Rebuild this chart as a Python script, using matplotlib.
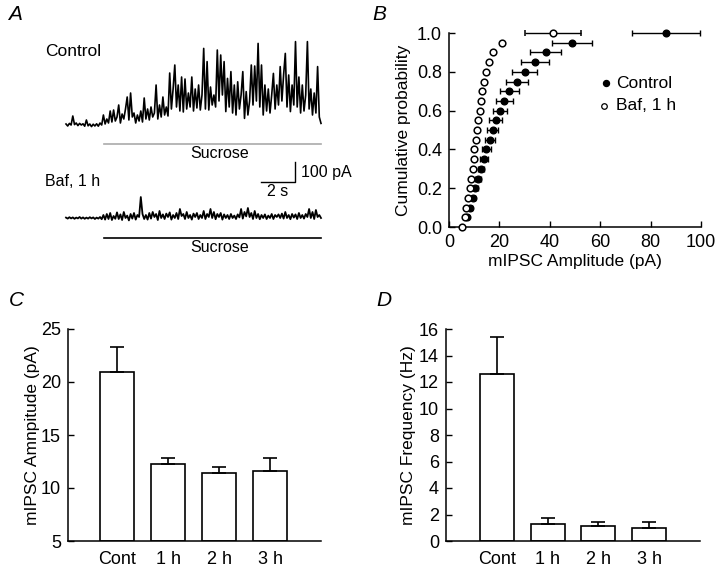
import numpy as np
import matplotlib
matplotlib.use("Agg")
import matplotlib.pyplot as plt

plt.rcParams['font.family'] = ['Liberation Sans', 'DejaVu Sans']

# ---------------- data ----------------
trace_dt = 0.1
control_trace = [
    5, -5, 8, 0, 45, 2, 10, -3, 8, 0,
    6, -6, 25, -4, 5, -8, 4, -5, 6, -6,
    10, 0, 50, 5, 30, 10, 70, 15, 75, 20,
    40, 100, 10, 55, 30, 80, 140, 25, 160, 40,
    60, 10, 50, 20, 70, 15, 135, 30, 80, 25,
    90, 40, 60, 200, 30, 100, 40, 140, 50, 90,
    45, 260, 80, 180, 300, 90, 200, 70, 240, 65,
    230, 80, 160, 90, 240, 70, 180, 85, 200, 75,
    150, 383, 80, 317, 75, 190, 100, 150, 90, 375,
    120, 350, 150, 317, 67, 233, 90, 267, 60, 200,
    50, 216, 80, 150, 267, 33, 167, 50, 120, 300,
    100, 295, 120, 408, 90, 300, 50, 200, 70, 180,
    60, 150, 258, 80, 200, 100, 292, 120, 250, 358,
    90, 250, 67, 200, 100, 417, 90, 240, 60, 200,
    70, 150, 417, 80, 180, 50, 160, 60, 292, 40,
    8]
baf_trace = [
    2, -3, 4, -2, 3, -4, 2, -2, 5, -3,
    3, -4, 2, -3, 4, -2, 3, -5, 2, -3,
    5, -6, 15, -8, 20, -5, 25, -10, 10, -4,
    28, -5, 18, -10, 30, 0, 12, -12, 20, -3,
    25, -8, 15, 5, 105, 20, -5, 15, -8, 25,
    -3, 30, 5, 20, -10, 35, 0, 18, -5, 22,
    5, 28, -8, 15, 0, 25, -5, 45, 10, 20,
    -5, 30, 0, 15, -8, 22, 5, 25, -5, 15,
    0, 35, -5, 20, 5, 45, 0, 30, -6, 20,
    5, 25, -8, 18, 0, 15, -5, 20, 0, 12,
    -5, 18, 3, 45, -3, 30, 8, 50, 5, 25,
    -5, 35, 0, 20, -6, 15, 0, 18, -5, 12,
    0, 20, -5, 15, 5, 18, 0, 22, -3, 30,
    0, 15, -6, 20, 2, 18, -5, 25, 0, 15,
    -3, 20, 5, 45, 0, 30, -5, 40, 5, 15,
    0]
sucrose_start = 2.24
sucrose_end = 15.0
baf_offset = -465

# Panel B: cumulative probability
cum_prob_ctrl = [0.05, 0.10, 0.15, 0.20, 0.25, 0.30, 0.35, 0.40, 0.45, 0.50,
                 0.55, 0.60, 0.65, 0.70, 0.75, 0.80, 0.85, 0.90, 0.95, 1.00]
amp_ctrl = [7.0, 8.5, 9.6, 10.5, 11.5, 12.7, 13.8, 14.8, 16.1, 17.3,
            18.5, 20.2, 21.9, 24.0, 27.0, 30.0, 34.0, 38.4, 48.7, 86.3]
amp_ctrl_err = [0.4, 0.6, 0.8, 1.0, 1.2, 1.3, 1.5, 1.8, 2.0, 2.3,
                2.5, 2.7, 3.3, 3.7, 4.5, 5.0, 5.5, 6.2, 8.0, 13.5]
cum_prob_baf = [0.00, 0.05, 0.10, 0.15, 0.20, 0.25, 0.30, 0.35, 0.40, 0.45, 0.50,
                0.55, 0.60, 0.65, 0.70, 0.75, 0.80, 0.85, 0.90, 0.95, 1.00]
amp_baf = [5.0, 6.3, 6.8, 7.5, 8.3, 8.9, 9.4, 9.8, 10.1, 10.6, 11.0,
           11.7, 12.2, 12.6, 13.2, 14.0, 14.8, 15.9, 17.3, 21.0, 41.2]
amp_baf_err = [0, 0, 0, 0, 0, 0, 0, 0, 0, 0, 0,
               0, 0, 0, 0, 0, 0, 0, 0, 0, 11.2]

# Panels C and D
groups = ['Cont', '1 h', '2 h', '3 h']
amplitude = [20.95, 12.25, 11.4, 11.65]
amplitude_err = [2.35, 0.55, 0.6, 1.2]
frequency = [12.6, 1.3, 1.14, 1.0]
frequency_err = [2.8, 0.47, 0.3, 0.44]

# ---------------- figure ----------------
W, H = 720, 567
fig = plt.figure(figsize=(W / 100, H / 100), dpi=100)


def ax_px(l, t, r, b):
    return fig.add_axes([l / W, 1 - b / H, (r - l) / W, (b - t) / H])


TICK = 13
LAB = 12.5

# ----- Panel A -----
axA = ax_px(40, 30, 360, 260)
px_per_s = 17.0
px_per_pA = 0.2
axA.set_xlim((40 - 66) / px_per_s, (360 - 66) / px_per_s)
axA.set_ylim(-(260 - 125) / px_per_pA, (125 - 30) / px_per_pA)
axA.axis('off')
tc = np.arange(len(control_trace)) * trace_dt
tb = np.arange(len(baf_trace)) * trace_dt
axA.plot(tc, control_trace, color='black', lw=1.2)
axA.plot(tb, np.array(baf_trace) + baf_offset, color='black', lw=1.3)
axA.plot([sucrose_start, sucrose_end], [-95, -95], color='#aaaaaa', lw=1.2)
axA.plot([sucrose_start, sucrose_end], [-565, -565], color='black', lw=1.2)
axA.text(9.06, -140, 'Sucrose', ha='center', va='center', fontsize=11.5)
axA.text(9.06, -615, 'Sucrose', ha='center', va='center', fontsize=11.5)
# scale bar
axA.plot([11.47, 13.47, 13.47], [-285, -285, -185], color='black', lw=1.0)
axA.text(13.85, -235, '100 pA', ha='left', va='center', fontsize=11.5)
axA.text(12.47, -335, '2 s', ha='center', va='center', fontsize=11.5)
fig.text(45 / W, 1 - 52 / H, 'Control', ha='left', va='center', fontsize=12.5)
fig.text(45 / W, 1 - 182 / H, 'Baf, 1 h', ha='left', va='center', fontsize=11.5)

# ----- Panel B -----
axB = ax_px(449, 33, 701, 227)
axB.errorbar(amp_ctrl, cum_prob_ctrl, xerr=amp_ctrl_err, fmt='o', color='black',
             ms=4.8, elinewidth=1.0, capsize=2.2, capthick=1.0, clip_on=False, zorder=3)
axB.errorbar(amp_baf, cum_prob_baf, xerr=amp_baf_err, fmt='o', color='black',
             mfc='white', mec='black', mew=1.1, ms=4.8, elinewidth=1.0,
             capsize=2.2, capthick=1.0, clip_on=False, zorder=4)
axB.set_xlim(0, 100)
axB.set_ylim(0, 1.0)
axB.set_xticks([0, 20, 40, 60, 80, 100])
axB.set_yticks([0.0, 0.2, 0.4, 0.6, 0.8, 1.0])
axB.set_yticklabels(['0.0', '0.2', '0.4', '0.6', '0.8', '1.0'])
axB.set_xlabel('mIPSC Amplitude (pA)', fontsize=LAB, labelpad=2)
axB.set_ylabel('Cumulative probability', fontsize=LAB, labelpad=4)
axB.plot([0.623], [0.742], 'o', color='black', ms=4.3, transform=axB.transAxes, clip_on=False)
axB.plot([0.615], [0.624], 'o', mfc='white', mec='black', mew=0.9, ms=4,
         transform=axB.transAxes, clip_on=False)
axB.text(0.663, 0.742, 'Control', transform=axB.transAxes, ha='left', va='center', fontsize=LAB)
axB.text(0.663, 0.624, 'Baf, 1 h', transform=axB.transAxes, ha='left', va='center', fontsize=LAB)

# ----- Panel C -----
axC = ax_px(68, 329, 321, 541)
xpos = np.arange(1, len(groups) + 1)
axC.bar(xpos, np.array(amplitude) - 5, bottom=5, width=0.67, color='white',
        edgecolor='black', linewidth=1.2, zorder=2)
axC.errorbar(xpos, amplitude, yerr=[np.zeros(len(groups)), amplitude_err], fmt='none',
             ecolor='black', elinewidth=1.2, capsize=5, capthick=1.2, zorder=3)
axC.set_xlim(0.03, 5.0)
axC.set_ylim(5, 25)
axC.set_yticks([5, 10, 15, 20, 25])
axC.set_xticks(xpos)
axC.set_xticklabels(groups)
axC.set_ylabel('mIPSC Amnpitude (pA)', fontsize=LAB, labelpad=1)

# ----- Panel D -----
axD = ax_px(446, 329, 700, 541)
axD.bar(xpos, frequency, width=0.67, color='white', edgecolor='black',
        linewidth=1.2, zorder=2)
axD.errorbar(xpos, frequency, yerr=[np.zeros(len(groups)), frequency_err], fmt='none',
             ecolor='black', elinewidth=1.2, capsize=5, capthick=1.2, zorder=3)
axD.set_xlim(0, 5.0)
axD.set_ylim(0, 16)
axD.set_yticks(range(0, 17, 2))
axD.set_xticks(xpos)
axD.set_xticklabels(groups)
axD.set_ylabel('mIPSC Frequency (Hz)', fontsize=LAB, labelpad=2)

for ax in (axB, axC, axD):
    for s in ('top', 'right'):
        ax.spines[s].set_visible(False)
    for s in ('left', 'bottom'):
        ax.spines[s].set_linewidth(1.1)
    ax.tick_params(axis='both', direction='in', length=4, width=1.0, labelsize=TICK, pad=5)
for ax in (axC, axD):
    ax.tick_params(axis='x', length=0, pad=7)

# panel letters
for letter, (x, y) in {'A': (15, 14), 'B': (379, 14), 'C': (16, 300), 'D': (384, 300)}.items():
    fig.text(x / W, 1 - y / H, letter, ha='center', va='center', fontsize=15, style='italic')

fig.savefig('out.png', dpi=100)
